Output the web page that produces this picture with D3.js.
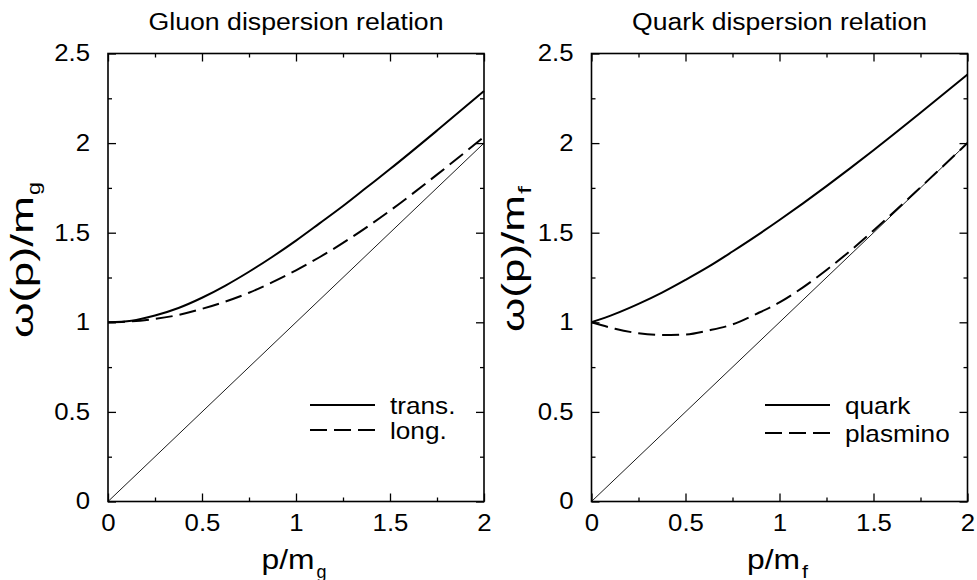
<!DOCTYPE html>
<html>
<head>
<meta charset="utf-8">
<script src="https://cdn.jsdelivr.net/npm/d3@7"></script>
<style>
body { margin: 0; background: #fff; }
svg { display: block; }
text { font-family: "Liberation Sans", Arial, Helvetica, sans-serif; fill: #000; }
</style>
</head>
<body>
<svg id="chart" width="977" height="580"></svg>
<script>
// momentum grid (p / m) and the curves
const momentum   = [0, 0.125, 0.25, 0.375, 0.5, 0.625, 0.75, 0.875, 1, 1.125, 1.25, 1.375, 1.5, 1.75, 2];
const gluonTrans = [1, 1.009, 1.038, 1.080, 1.137, 1.205, 1.282, 1.366, 1.456, 1.552, 1.649, 1.752, 1.855, 2.070, 2.291];
const gluonLong  = [1, 1.005, 1.019, 1.041, 1.075, 1.116, 1.165, 1.224, 1.290, 1.363, 1.443, 1.530, 1.623, 1.824, 2.035];
const quarkBranch    = [1, 1.047, 1.103, 1.166, 1.237, 1.312, 1.395, 1.481, 1.571, 1.664, 1.760, 1.859, 1.960, 2.169, 2.383];
const plasminoBranch = [1, 0.964, 0.939, 0.929, 0.932, 0.955, 0.988, 1.046, 1.111, 1.195, 1.292, 1.398, 1.512, 1.753, 2.001];

const xTickValues = [0, 0.5, 1, 1.5, 2];
const yTickValues = [0, 0.5, 1, 1.5, 2, 2.5];
const minorTicks  = [0.25, 0.75, 1.25, 1.75, 2.25];

const panelTitles = ["Gluon dispersion relation", "Quark dispersion relation"];
const massSubs    = ["g", "f"];
const legendNames = [["trans.", "long."], ["quark", "plasmino"]];

const svg = d3.select("#chart");
const TOP = 53.5, BOTTOM = 501.5;
const DASH = "17,7";

function stretch(sel, factor) {
    sel.each(function() {
        const w = this.getComputedTextLength();
        d3.select(this).attr("textLength", w * factor).attr("lengthAdjust", "spacingAndGlyphs");
    });
}

function drawPanel(idx, left, right, series, legendX, legendRow2) {
    const xscale = d3.scaleLinear().domain([0, 2]).range([left, right]);
    const yscale = d3.scaleLinear().domain([0, 2.5]).range([BOTTOM, TOP]);
    const g = svg.append("g");
    const mid = (left + right) / 2;

    // light cone
    g.append("line")
        .attr("x1", xscale(0)).attr("y1", yscale(0))
        .attr("x2", xscale(2)).attr("y2", yscale(2))
        .attr("stroke", "#000").attr("stroke-width", 0.9);

    const line = d3.line()
        .x((d, i) => xscale(momentum[i]))
        .y(d => yscale(d))
        .curve(d3.curveMonotoneX);

    g.append("path").datum(series[0])
        .attr("d", line).attr("fill", "none")
        .attr("stroke", "#000").attr("stroke-width", 2);
    g.append("path").datum(series[1])
        .attr("d", line).attr("fill", "none")
        .attr("stroke", "#000").attr("stroke-width", 2)
        .attr("stroke-dasharray", DASH);

    // ticks, inward on all four sides
    const sides = [
        [d3.axisBottom(xscale), `translate(0,${BOTTOM})`, true],
        [d3.axisTop(xscale), `translate(0,${TOP})`, false],
        [d3.axisLeft(yscale), `translate(${left},0)`, true],
        [d3.axisRight(yscale), `translate(${right},0)`, false]
    ];
    sides.forEach(([ax, tr, labelled], k) => {
        const isX = k < 2;
        const majors = isX ? xTickValues : yTickValues;
        const minors = isX ? minorTicks.filter(v => v < 2) : minorTicks;
        const ag = g.append("g").attr("transform", tr)
            .call(ax.tickValues(majors).tickSize(-8).tickPadding(isX ? 13.5 : 18)
                .tickFormat(labelled ? d3.format("") : () => ""));
        ag.select(".domain").remove();
        ag.selectAll("line").attr("stroke", "#000").attr("stroke-width", 1.3);
        ag.selectAll("text").attr("font-size", 23).attr("font-family", null);
        if (labelled) stretch(ag.selectAll("text"), 1.12);
        const mg = g.append("g").attr("transform", tr)
            .call(ax.tickValues(minors).tickSize(-4).tickFormat(() => ""));
        mg.select(".domain").remove();
        mg.selectAll("line").attr("stroke", "#000").attr("stroke-width", 1.3);
    });

    // frame
    g.append("rect")
        .attr("x", left).attr("y", TOP)
        .attr("width", right - left).attr("height", BOTTOM - TOP)
        .attr("fill", "none").attr("stroke", "#000").attr("stroke-width", 1.6);

    // title
    g.append("text")
        .attr("x", mid).attr("y", 30)
        .attr("text-anchor", "middle").attr("font-size", 23)
        .attr("textLength", 295).attr("lengthAdjust", "spacingAndGlyphs")
        .text(panelTitles[idx]);

    // x label  p/m_g
    const subW = idx === 0 ? 10 : 6;
    const xStart = mid - (53 + 2 + subW) / 2 - 2;
    g.append("text").attr("x", xStart).attr("y", 568.5).attr("font-size", 27)
        .attr("textLength", 53).attr("lengthAdjust", "spacingAndGlyphs").text("p/m");
    g.append("text").attr("x", xStart + 55).attr("y", 577.5).attr("font-size", 18)
        .attr("textLength", subW).attr("lengthAdjust", "spacingAndGlyphs").text(massSubs[idx]);

    // y label  omega(p)/m_g
    const yl = idx === 0 ? {x: 32.5, y: 338, len: 142, sub: 13} : {x: 524, y: 332, len: 137, sub: 8};
    const lg = g.append("g").attr("transform", `translate(${yl.x},${yl.y}) rotate(-90)`);
    lg.append("text").attr("x", 0).attr("y", 0).attr("font-size", 31)
        .attr("textLength", yl.len).attr("lengthAdjust", "spacingAndGlyphs").text("ω(p)/m");
    lg.append("text").attr("x", yl.len + 1).attr("y", 7).attr("font-size", 19)
        .attr("textLength", yl.sub).attr("lengthAdjust", "spacingAndGlyphs").text(massSubs[idx]);

    // legend
    const rows = [405, legendRow2];
    rows.forEach((ry, r) => {
        g.append("line")
            .attr("x1", legendX).attr("x2", legendX + 65)
            .attr("y1", ry).attr("y2", ry)
            .attr("stroke", "#000").attr("stroke-width", 2)
            .attr("stroke-dasharray", r === 1 ? DASH : null);
        const t = g.append("text")
            .attr("x", legendX + 80).attr("y", ry + 8.5)
            .attr("font-size", 24).text(legendNames[idx][r]);
        stretch(t, 1.09);
    });
}

function main() {
    drawPanel(0, 108, 484, [gluonTrans, gluonLong], 310, 430);
    drawPanel(1, 591.5, 967.5, [quarkBranch, plasminoBranch], 765, 433);
}

main();
</script>
</body>
</html>
